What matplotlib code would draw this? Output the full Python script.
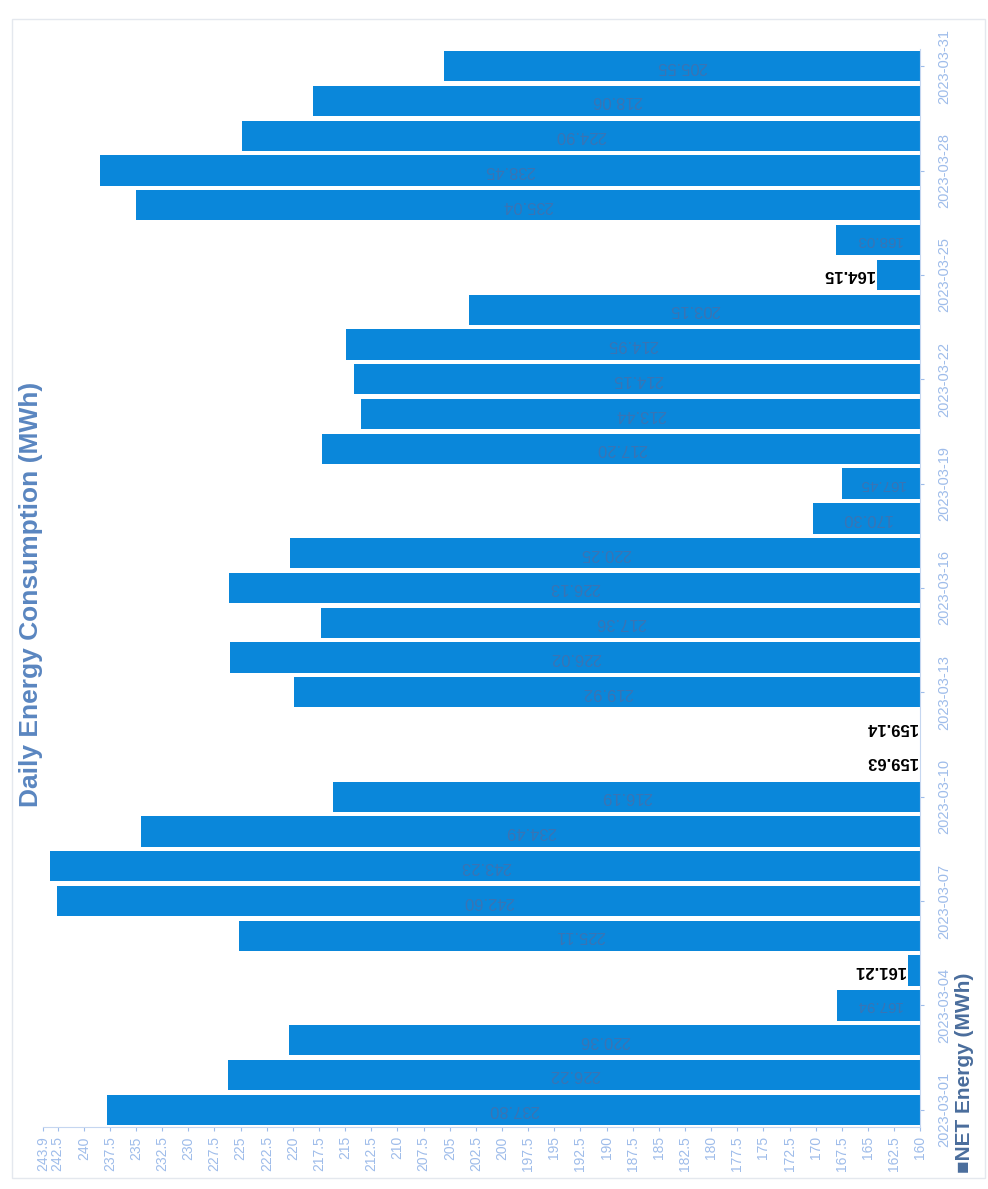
import matplotlib
matplotlib.use("Agg")
import matplotlib.pyplot as plt
import numpy as np

# daily NET energy, March 2023 (MWh)
dates = ["2023-03-%02d" % d for d in range(1, 32)]
values = [237.80, 226.22, 220.36, 167.94, 161.21, 225.11, 242.60, 243.23, 234.49, 216.19,
          159.63, 159.14, 219.92, 226.02, 217.36, 226.13, 220.25, 170.30, 167.45, 217.20,
          213.44, 214.15, 214.95, 203.15, 164.15, 168.03, 235.04, 238.45, 224.90, 218.06,
          205.55]
base = 160
top = 243.9
value_ticks = list(np.arange(160, 243, 2.5)) + [243.9]

bar_color = "#0a87da"
tick_color = "#9ebcea"

plt.rcParams['font.family'] = ['Liberation Sans', 'DejaVu Sans']

fig = plt.figure(figsize=(9.88, 11.89), dpi=100)
ax = fig.add_axes([0.0435, 0.052, 0.888, 0.907])

y = np.arange(len(dates))
vals = np.array(values)
ax.barh(y, vals - base, left=base, height=0.87, color=bar_color)

ax.set_xlim(top, base)
ax.set_ylim(-0.5, len(dates) - 0.5)

# value labels (chart is turned on its side, so text is upside down)
for i, v in enumerate(values):
    if v > 170:
        ax.text((v + base) / 2, i, "%.2f" % v, rotation=180, ha="center", va="center",
                fontsize=12, color="#3a74b4")
    elif v > 165:
        ax.text((v + base) / 2, i, "%.2f" % v, rotation=180, ha="center", va="center",
                fontsize=11, color="#3a74b4")
    else:
        ax.text(max(v, base) + 0.3, i, "%.2f" % v, rotation=180, ha="right", va="center",
                fontsize=12, color="black", fontweight="bold")

ax.yaxis.tick_right()
ax.set_yticks(y[::3])
ax.set_yticklabels([dates[i] for i in y[::3]], rotation=90, va="center",
                   fontsize=10.5, color=tick_color)
ax.set_xticks(value_ticks)
ax.set_xticklabels([("%g" % t) for t in value_ticks], rotation=90, fontsize=10,
                   color=tick_color)
ax.tick_params(axis="both", colors=tick_color, length=3)
ax.tick_params(axis="y", pad=9)

for s in ["left", "top"]:
    ax.spines[s].set_visible(False)
for s in ["bottom", "right"]:
    ax.spines[s].set_color("#c5d6f0")

fig.text(0.031, 0.50, "Daily Energy Consumption (MWh)", rotation=90, ha="center",
         va="center", fontsize=19, fontweight="bold", color="#5a86c0")
fig.text(0.976, 0.098, "\u25a0NET Energy (MWh)", rotation=90, ha="center", va="center",
         fontsize=15, fontweight="bold", color="#4a6d9c")

fig.patches.append(plt.Rectangle((0.012, 0.009), 0.985, 0.975, transform=fig.transFigure,
                                 fill=False, edgecolor="#e4e8ee", linewidth=1))

fig.savefig("out.png", dpi=100)
